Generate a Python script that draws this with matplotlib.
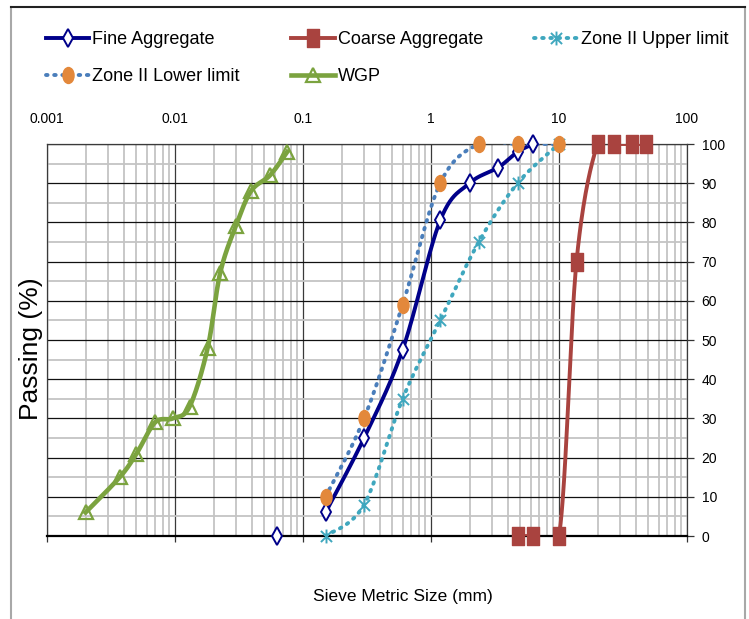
import numpy as np
import matplotlib
matplotlib.use("Agg")
import matplotlib.pyplot as plt
from matplotlib.path import Path
from matplotlib.lines import Line2D
from matplotlib.ticker import LogLocator, MultipleLocator, FixedLocator, NullFormatter

plt.rcParams['font.family'] = ['Liberation Sans', 'DejaVu Sans']

# sieve sizes (mm) and percentage passing
fine_size = [0.15, 0.3, 0.6, 1.18, 2.0, 3.35, 4.75, 6.3]
fine_pass = [6, 25, 47.5, 80.5, 90, 94, 98, 100]
fine_pan_size = [0.063]
fine_pan_pass = [0]

coarse_size = [4.75, 6.3, 10, 13.7, 20, 27, 37, 48]
coarse_pass = [0, 0, 0, 70, 100, 100, 100, 100]

zone_size = [0.15, 0.3, 0.6, 1.18, 2.36, 4.75, 10]
upper_pass = [0, 8, 35, 55, 75, 90, 100]
lower_pass = [10, 30, 59, 90, 100, 100, 100]

wgp_size = [0.002, 0.0037, 0.005, 0.007, 0.0096, 0.013, 0.018, 0.0225,
            0.0298, 0.0393, 0.0552, 0.0753]
wgp_pass = [6, 15, 21, 29, 30, 33, 48, 67, 79, 88, 92, 98]

x_ticks = [0.001, 0.01, 0.1, 1, 10, 100]
x_ticklabels = ['0.001', '0.01', '0.1', '1', '10', '100']


def smooth(x, y, n=40):
    """Bezier smoothing through the points in log-x space."""
    p = np.column_stack([np.log10(x), y]).astype(float)
    p = np.vstack([p[0], p, p[-1]])
    t = np.linspace(0, 1, n)[:, None]
    segs = []
    for i in range(1, len(p) - 2):
        p0, p1, p2, p3 = p[i - 1], p[i], p[i + 1], p[i + 2]
        c1 = p1 + (p2 - p0) / 6.0
        c2 = p2 - (p3 - p1) / 6.0
        segs.append((1 - t) ** 3 * p1 + 3 * (1 - t) ** 2 * t * c1
                    + 3 * (1 - t) * t ** 2 * c2 + t ** 3 * p2)
    s = np.vstack(segs)
    return 10 ** s[:, 0], s[:, 1]


# tall markers
circ = Path.unit_circle()
ellipse = Path(circ.vertices * [0.72, 1.0], circ.codes)
tall_square = Path([(-0.36, -0.5), (0.36, -0.5), (0.36, 0.5), (-0.36, 0.5), (-0.36, -0.5)],
                   [Path.MOVETO, Path.LINETO, Path.LINETO, Path.LINETO, Path.CLOSEPOLY])
star = Path([(0, -0.5), (0, 0.5), (-0.4, -0.4), (0.4, 0.4), (-0.4, 0.4), (0.4, -0.4)],
            [Path.MOVETO, Path.LINETO, Path.MOVETO, Path.LINETO, Path.MOVETO, Path.LINETO])

navy = '#00008A'
red = '#A9433F'
teal = '#3FA7BE'
blue = '#4A7EBB'
orange = '#E3883B'
green = '#7BA33F'
dots = (0, (0.4, 1.7))

W, H = 749, 619
fig = plt.figure(figsize=(W / 100, H / 100), dpi=100)
ax = fig.add_axes([47 / W, 1 - 536 / H, 640 / W, 392 / H])

ax.set_xscale('log')
ax.set_xlim(0.001, 100)
ax.set_ylim(0, 100)

# grid
ax.xaxis.set_major_locator(FixedLocator(x_ticks))
ax.xaxis.set_minor_locator(LogLocator(base=10, subs=np.arange(2, 10)))
ax.xaxis.set_minor_formatter(NullFormatter())
ax.set_xticklabels(x_ticklabels)
ax.yaxis.set_major_locator(MultipleLocator(10))
ax.yaxis.set_minor_locator(MultipleLocator(5))
ax.grid(which='minor', axis='both', color='#C4C4C4', lw=1.3, zorder=0)
ax.grid(which='major', axis='x', color='#3A3A3A', lw=0.9, zorder=0.5)
ax.grid(which='major', axis='y', color='#111111', lw=0.9, zorder=0.5)
ax.set_axisbelow(True)

ax.tick_params(axis='x', which='major', bottom=True, top=False, labelbottom=False,
               labeltop=True, length=4, width=0.9, color='#333333', pad=9,
               labelsize=10)
ax.tick_params(axis='x', which='minor', length=0)
ax.tick_params(axis='y', which='major', left=False, right=True, labelleft=False,
               labelright=True, length=5, width=0.9, color='#333333', pad=5.5,
               labelsize=10)
ax.tick_params(axis='y', which='minor', length=0)

for side in ['left', 'right', 'top']:
    ax.spines[side].set_color('#3A3A3A')
    ax.spines[side].set_linewidth(0.9)
ax.spines['bottom'].set_color('black')
ax.spines['bottom'].set_linewidth(1.6)

# curves
fine_style = dict(marker='d', ms=9, mfc='white', mec=navy, mew=1.4)
coarse_style = dict(marker=tall_square, ms=12.5, mfc=red, mec=red)
upper_style = dict(marker=star, ms=10, mfc='none', mec=teal, mew=1.4)
lower_style = dict(marker=ellipse, ms=12.5, mfc=orange, mec=orange, mew=0)
wgp_style = dict(marker='^', ms=10, mfc='none', mec=green, mew=1.6)

fx, fy = smooth(fine_size, fine_pass)
ax.plot(fx, fy, color=navy, lw=2.8, zorder=3)
ax.plot(fine_size, fine_pass, ls='none', zorder=4, clip_on=False, **fine_style)
ax.plot(fine_pan_size, fine_pan_pass, ls='none', zorder=4, clip_on=False, **fine_style)

cx, cy = smooth(coarse_size, coarse_pass)
ax.plot(cx, cy, color=red, lw=2.8, zorder=3)
ax.plot(coarse_size, coarse_pass, ls='none', zorder=4, clip_on=False, **coarse_style)

ux, uy = smooth(zone_size, upper_pass)
ax.plot(ux, uy, color=teal, lw=2.8, ls=dots, dash_capstyle='round', zorder=3)
ax.plot(zone_size, upper_pass, ls='none', zorder=4, clip_on=False, **upper_style)

lx, ly = smooth(zone_size, lower_pass)
ax.plot(lx, ly, color=blue, lw=2.8, ls=dots, dash_capstyle='round', zorder=3)
ax.plot(zone_size, lower_pass, ls='none', zorder=4, clip_on=False, **lower_style)

gx, gy = smooth(wgp_size, wgp_pass)
ax.plot(gx, gy, color=green, lw=3.3, zorder=3)
ax.plot(wgp_size, wgp_pass, ls='none', zorder=4, clip_on=False, **wgp_style)

# legend
h_fine = Line2D([], [], color=navy, lw=2.8, **fine_style)
h_coarse = Line2D([], [], color=red, lw=2.8, **coarse_style)
h_upper = Line2D([], [], color=teal, lw=2.8, ls=dots, dash_capstyle='round', **upper_style)
h_lower = Line2D([], [], color=blue, lw=2.8, ls=dots, dash_capstyle='round', **lower_style)
h_wgp = Line2D([], [], color=green, lw=3.3, **wgp_style)

fig.legend([h_fine, h_lower, h_coarse, h_wgp, h_upper],
           ['Fine Aggregate', 'Zone II Lower limit', 'Coarse Aggregate', 'WGP',
            'Zone II Upper limit'],
           ncol=3, loc='upper left', bbox_to_anchor=(46 / W, 1 - 31.5 / H),
           frameon=False, fontsize=13, handlelength=2.4, handletextpad=0.17,
           columnspacing=2.85, labelspacing=1.07, borderpad=0, borderaxespad=0)

fig.text(31 / W, 1 - 349 / H, 'Passing (%)', rotation=90, ha='center', va='center',
         fontsize=19)
fig.text(403 / W, 1 - 597 / H, 'Sieve Metric Size (mm)', ha='center', va='center',
         fontsize=12.5)

# outer chart border
fig.add_artist(Line2D([11 / W, 11 / W], [0, 1 - 7 / H], color='#A8A8A8', lw=1.5))
fig.add_artist(Line2D([745 / W, 745 / W], [0, 1 - 7 / H], color='#A8A8A8', lw=1.5))
fig.add_artist(Line2D([11 / W, 745 / W], [1 - 7 / H, 1 - 7 / H], color='#222222', lw=1.5))

fig.savefig('out.png', dpi=100)
